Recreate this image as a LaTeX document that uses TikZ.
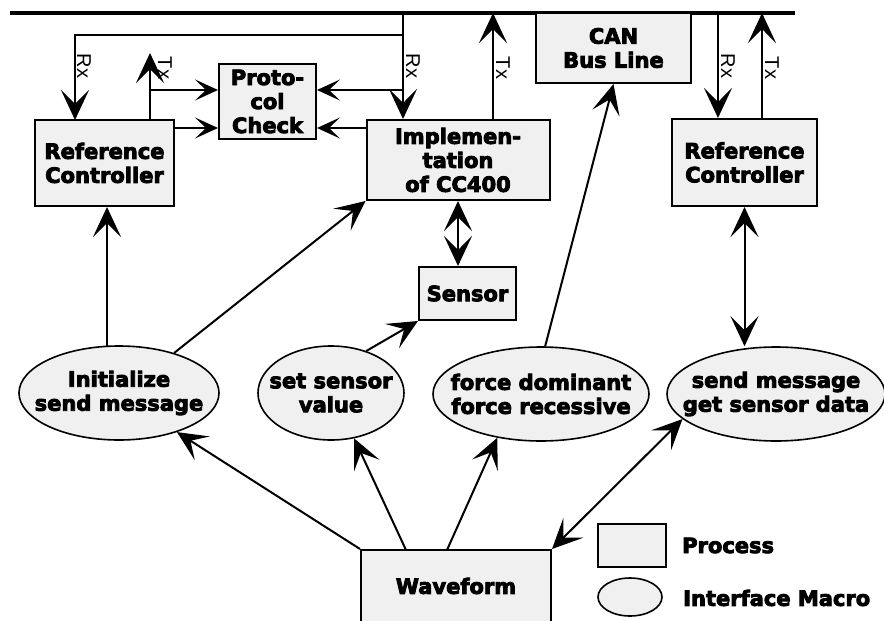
\documentclass[tikz,border=0pt]{standalone}
\usepackage{fontspec}
\setmainfont{DejaVu Sans}[BoldFeatures={FakeBold=4}]
\newfontfamily\lblfont{Liberation Sans}
\usetikzlibrary{arrows.meta,shapes.geometric}
\definecolor{boxgray}{HTML}{F0F0F0}
\tikzset{
  proc/.style={draw, fill=boxgray, line width=2pt, inner sep=0pt, align=center,
    font=\bfseries\fontsize{21}{24}\selectfont},
  macro/.style={draw, fill=boxgray, ellipse, line width=1.6pt, inner sep=0pt},
  mtext/.style={align=center, inner sep=0pt, font=\bfseries\fontsize{21}{24}\selectfont},
  conn/.style={line width=2pt},
  arr/.style={conn, -{Stealth[length=30pt,width=28pt,inset=14pt]}},
  sarr/.style={conn, -{Stealth[length=23pt,width=21pt,inset=11pt]}},
  darr/.style={conn, {Stealth[length=30pt,width=28pt,inset=14pt]}-{Stealth[length=30pt,width=28pt,inset=14pt]}},
  sig/.style={rotate=-90, inner sep=0pt, font=\lblfont\fontsize{20}{20}\selectfont},
  legtext/.style={anchor=west, inner sep=0pt, font=\bfseries\fontsize{21}{24}\selectfont}
}
\begin{document}
\begin{tikzpicture}[x=1pt,y=-1pt]
\useasboundingbox (0,0) rectangle (884,621);
\clip (0,0) rectangle (884,621);

% bus line
\coordinate (busL) at (10,13);
\coordinate (busR) at (795,13);
\draw[line width=4.5pt] (busL) -- (busR);

% processes
\node[proc, minimum width=139pt, minimum height=86pt] (ref1) at (104.5,163) {Reference\\Controller};
\node[proc, minimum width=97pt, minimum height=75pt] (proto) at (267.5,101.5) {Proto-\\col\\Check};
\node[proc, minimum width=183pt, minimum height=80pt] (impl) at (458,160) {Implemen-\\tation\\of CC400};
\node[proc, minimum width=155pt, minimum height=70pt] (can) at (613.5,48) {CAN\\Bus Line};
\node[proc, minimum width=145pt, minimum height=87pt] (ref2) at (744.5,162.5) {Reference\\Controller};
\node[proc, minimum width=97pt, minimum height=53pt] (sensor) at (467.5,293.5) {Sensor};
\node[proc, minimum width=190pt, minimum height=72pt] (wave) at (456,586) {Waveform};

% macros
\node[macro, minimum width=200pt, minimum height=94pt] (init) at (119,393) {};
\node[mtext] (initt) at (init.center) {Initialize\\send message};
\node[macro, minimum width=146pt, minimum height=94pt] (setv) at (331,393) {};
\node[mtext] (setvt) at (setv.center) {set sensor\\value};
\node[macro, minimum width=216pt, minimum height=94pt] (force) at (541,394) {};
\node[mtext] (forcet) at (force.center) {force dominant\\force recessive};
\node[macro, minimum width=218pt, minimum height=94pt] (send) at (776,394) {};
\node[mtext] (sendt) at (send.center) {send message\\get sensor data};

% legend
\node[proc, minimum width=68pt, minimum height=43pt] (legbox) at (632,545.5) {};
\node[legtext] (legboxt) at (682,545.5) {Process};
\node[macro, minimum width=64pt, minimum height=38pt] (legell) at (630,597) {};
\node[legtext] (legellt) at (683,598) {Interface Macro};

% bus connections, left controller / implementation
\coordinate (busA) at (403,13);
\coordinate (jA) at (403,35);
\coordinate (jB) at (403,90);
\coordinate (r1in) at (75,120);
\coordinate (imIn) at (367,128);
\coordinate (r1out) at (174,128);
\draw[conn] (busA) -- (jA);
\draw[arr] (jA) -| (r1in);
\draw[arr] (jA) -- (impl.north west -| jA);
\draw[sarr] (jB) -- (proto.east |- jB);
\draw[sarr] (imIn) -- (proto.east |- imIn);

\coordinate (txA) at (150,53);
\coordinate (txS) at (150,120);
\coordinate (jC) at (150,90);
\draw[arr] (txS) -- (txA);
\draw[sarr] (jC) -- (proto.west |- jC);
\draw[sarr] (r1out) -- (proto.west |- r1out);

\coordinate (busB) at (493,13);
\draw[arr] (impl.north west -| busB) -- (busB);

% right controller
\coordinate (busC) at (718,13);
\coordinate (busD) at (762,13);
\draw[arr] (busC) -- (ref2.north west -| busC);
\draw[arr] (ref2.north west -| busD) -- (busD);

% signal labels
\node[sig] (rx1) at (84,66) {Rx};
\node[sig] (tx1) at (165,68) {Tx};
\node[sig] (rx2) at (413,66) {Rx};
\node[sig] (tx2) at (503,68) {Tx};
\node[sig] (rx3) at (728,66) {Rx};
\node[sig] (tx3) at (772,68) {Tx};

% macros to processes
\coordinate (iA) at (107,347);
\draw[arr] (iA) -- (ref1.south -| iA);
\draw[arr] (init.36) -- (impl.south west);
\draw[arr] (setv.50) -- (sensor.south west);
\draw[darr] (impl.south) -- (impl.south |- sensor.north);
\draw[arr] (force.85) -- (can.south);
\draw[darr] (ref2.south) -- (ref2.south |- send.north);

% waveform to macros
\coordinate (w1) at (406,550);
\coordinate (w2) at (447,550);
\draw[arr] (wave.north west) -- (init.-34);
\draw[arr] (w1) -- (setv.-63);
\draw[arr] (w2) -- (force.-135);
\draw[darr] (wave.north east) -- (send.195);
\end{tikzpicture}
\end{document}
